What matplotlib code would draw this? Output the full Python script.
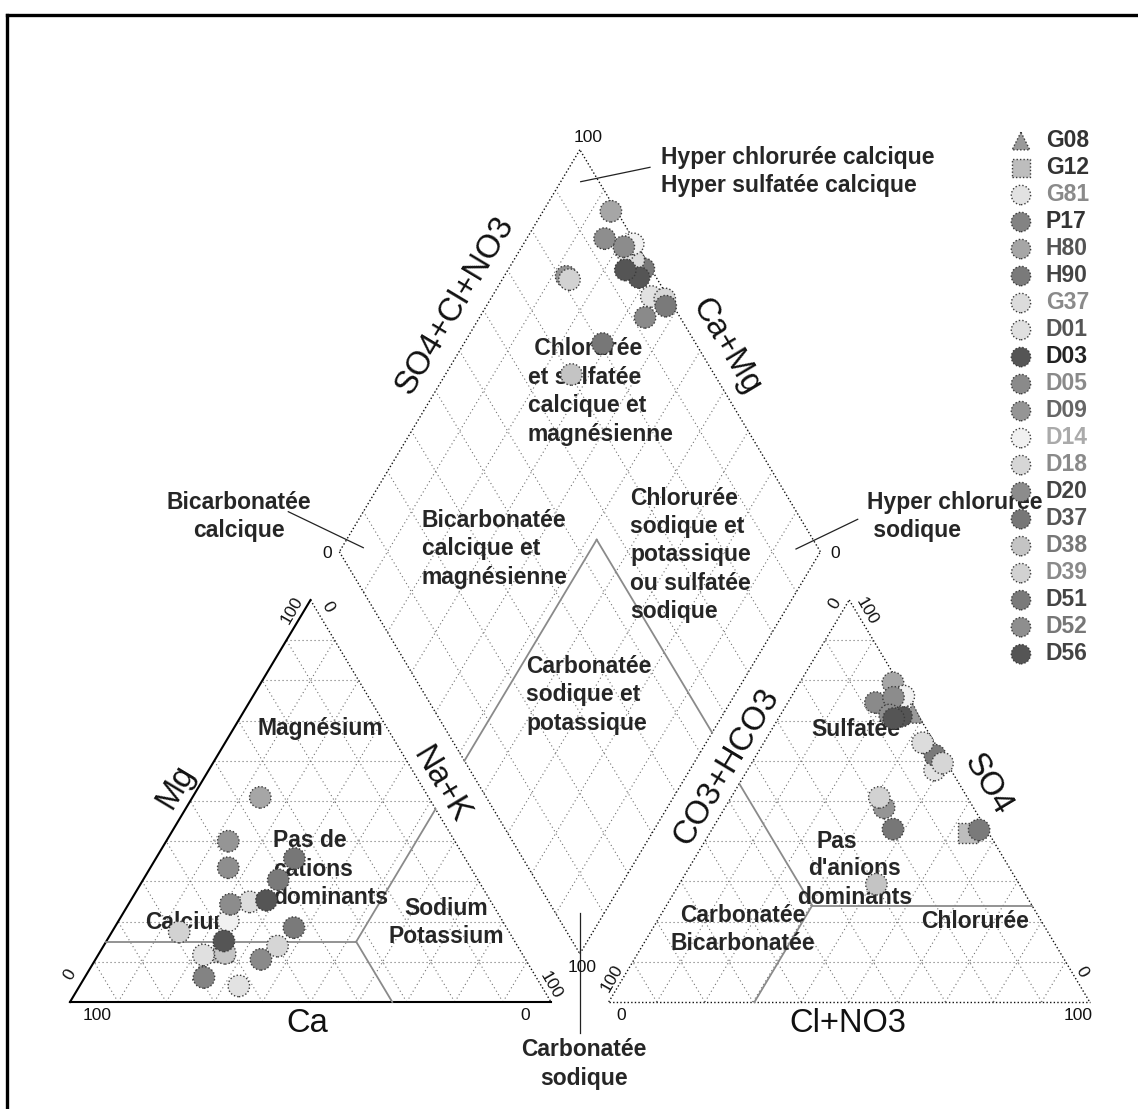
import matplotlib
matplotlib.use("Agg")
import matplotlib.pyplot as plt
from matplotlib.lines import Line2D

plt.rcParams['font.family'] = ['Liberation Sans', 'DejaVu Sans']

# ---------------- data ----------------
samples = ["G08", "G12", "G81", "P17", "H80", "H90", "G37", "D01", "D03", "D05",
           "D09", "D14", "D18", "D20", "D37", "D38", "D39", "D51", "D52", "D56"]
# cations (% meq)
ca  = [68.5, 62.0, 62.9, 69.1, 35.0, 41.5, 50.2, 66.4, 46.5, 55.0,
       47.1, 57.0, 49.9, 54.5, 35.5, 61.7, 68.6, 44.2, 50.4, 60.4]
mg  = [7.9, 12.5, 4.0, 6.1, 50.9, 30.4, 24.9, 11.7, 25.3, 10.6,
       40.0, 20.2, 13.9, 24.3, 35.7, 12.1, 17.4, 18.5, 33.4, 15.2]
nak = [23.6, 25.5, 33.1, 24.8, 14.1, 28.1, 24.9, 21.9, 28.2, 34.4,
       12.9, 22.8, 36.2, 21.2, 28.8, 26.2, 14.0, 37.3, 16.2, 24.4]
# anions (% meq)
hco3 = [0.9, 4.2, 3.4, 3.6, 1.2, 1.5, 2.5, 3.0, 3.6, 7.3,
        18.6, 0.6, 0.9, 2.9, 19.4, 29.7, 18.3, 1.6, 5.9, 5.5]
so4  = [71.8, 42.1, 57.7, 73.0, 79.4, 61.4, 64.5, 74.0, 71.1, 74.5,
        48.3, 76.1, 59.4, 75.8, 43.0, 29.3, 50.9, 42.8, 71.4, 70.5]
cl   = [27.3, 53.7, 38.9, 23.4, 19.4, 37.1, 33.0, 23.0, 25.3, 18.2,
        33.1, 23.3, 39.7, 21.3, 37.6, 41.0, 30.8, 55.6, 22.7, 24.0]

markers = ["^", "s"] + ["o"] * 18
fills = ["#9a9a9a", "#bdbdbd", "#e2e2e2", "#838383", "#a6a6a6", "#7a7a7a", "#dcdcdc",
         "#e0e0e0", "#555555", "#8a8a8a", "#959595", "#f1f1f1", "#d6d6d6", "#8c8c8c",
         "#777777", "#c4c4c4", "#d2d2d2", "#7a7a7a", "#8e8e8e", "#555555"]
label_colors = ["#333333", "#333333", "#8a8a8a", "#333333", "#555555", "#444444", "#8a8a8a",
                "#555555", "#222222", "#8a8a8a", "#666666", "#aaaaaa", "#8a8a8a", "#444444",
                "#555555", "#777777", "#8a8a8a", "#444444", "#777777", "#444444"]

# ---------------- geometry ----------------
GAP = 12.0
SX, SY = 4.81, 4.02          # pixel scale of one unit
X0, Y0 = 70.0, 1002.0        # pixel of cation Ca=100 vertex
W, H = 1138, 1109


def cat_xy(m, n):
    return n + m / 2.0, m


def an_xy(s, c):
    return 100 + GAP + c + s / 2.0, s


def dia_xy(s, m):
    return 100 + GAP / 2.0 + (s - m) / 2.0, GAP + s + m


def P(px, py):
    return (px - X0) / SX, (Y0 - py) / SY


fig = plt.figure(figsize=(W / 100, H / 100), dpi=100)
ax = fig.add_axes([0, 0, 1, 1])
ax.set_xlim(P(0, 0)[0], P(W, 0)[0])
ax.set_ylim(P(0, H)[1], P(0, 0)[1])
ax.axis("off")

# frame (left + top)
fig.add_artist(Line2D([6.5 / W, 6.5 / W], [0, 1 - 15 / H], color="black", lw=2.4))
fig.add_artist(Line2D([6.5 / W, 1], [1 - 15 / H, 1 - 15 / H], color="black", lw=2.4))

grid_kw = dict(color="#707070", lw=0.8, ls=(0, (1, 2.6)), zorder=1)
edge_dot = dict(color="#111111", lw=1.0, ls=(0, (1, 1.6)), zorder=2)
edge_solid = dict(color="black", lw=1.5, zorder=2)
class_kw = dict(color="#8a8a8a", lw=1.3, zorder=2)


def seg(f, a, b, **kw):
    x1, y1 = f(*a)
    x2, y2 = f(*b)
    ax.plot([x1, x2], [y1, y2], **kw)


ticks = range(10, 100, 10)
for k in ticks:
    # cation grid
    seg(cat_xy, (k, 0), (k, 100 - k), **grid_kw)
    seg(cat_xy, (0, k), (100 - k, k), **grid_kw)
    seg(cat_xy, (0, 100 - k), (100 - k, 0), **grid_kw)
    # anion grid
    seg(an_xy, (k, 0), (k, 100 - k), **grid_kw)
    seg(an_xy, (0, k), (100 - k, k), **grid_kw)
    seg(an_xy, (0, 100 - k), (100 - k, 0), **grid_kw)
    # diamond grid
    seg(dia_xy, (k, 0), (k, 100), **grid_kw)
    seg(dia_xy, (0, k), (100, k), **grid_kw)

# outlines
seg(cat_xy, (0, 0), (100, 0), **edge_solid)       # Mg axis (left)
seg(cat_xy, (0, 0), (0, 100), **edge_solid)       # Ca axis (bottom)
seg(cat_xy, (100, 0), (0, 100), **edge_dot)       # Na+K side
seg(an_xy, (0, 0), (0, 100), **edge_dot)
seg(an_xy, (0, 0), (100, 0), **edge_dot)
seg(an_xy, (100, 0), (0, 100), **edge_dot)
seg(dia_xy, (0, 0), (100, 0), **edge_dot)
seg(dia_xy, (100, 0), (100, 100), **edge_dot)
seg(dia_xy, (100, 100), (0, 100), **edge_dot)
seg(dia_xy, (0, 100), (0, 0), **edge_dot)

# classification lines
seg(cat_xy, (15, 0), (15, 52), **class_kw)
seg(cat_xy, (15, 52), (48, 52), **class_kw)
seg(cat_xy, (15, 52), (0, 67), **class_kw)
seg(an_xy, (24, 30.3), (54.3, 0), **class_kw)
seg(an_xy, (24, 30.3), (24, 76), **class_kw)
seg(an_xy, (24, 30.3), (0, 30.3), **class_kw)
seg(dia_xy, (55, 48), (0, 48), **class_kw)
seg(dia_xy, (55, 48), (55, 0), **class_kw)

# leader lines
lead_kw = dict(color="#222222", lw=0.9, zorder=2)
for (a, b) in [((580.7, 181.7), (650, 167.3)), ((288.3, 511.7), (363.3, 547.7)),
               ((796, 549), (857.7, 519.3)), ((580, 913.3), (580, 1032.7))]:
    p1, p2 = P(*a), P(*b)
    ax.plot([p1[0], p2[0]], [p1[1], p2[1]], **lead_kw)

# ---------------- text ----------------
bold = dict(fontsize=16.5, fontweight="bold", color="#262626", zorder=3, linespacing=1.3)


def txt(px, py, s, ha="center", va="center", **kw):
    x, y = P(px, py)
    d = dict(bold)
    d.update(kw)
    ax.text(x, y, s, ha=ha, va=va, multialignment=ha if ha != "center" else "center", **d)


txt(661, 171.5, "Hyper chlorurée calcique\nHyper sulfatée calcique", ha="left")
txt(528, 391.5, " Chlorurée\net sulfatée\ncalcique et\nmagnésienne", ha="left")
txt(422, 549, "Bicarbonatée\ncalcique et\nmagnésienne", ha="left")
txt(630, 555, "Chlorurée\nsodique et\npotassique\nou sulfatée\nsodique", ha="left")
txt(526, 695, "Carbonatée\nsodique et\npotassique", ha="left")
txt(239, 516.5, "Bicarbonatée\ncalcique")
txt(867, 516.5, "Hyper chlorurée\n sodique", ha="left")
txt(584, 1064, "Carbonatée\nsodique")
txt(320, 728, "Magnésium")
txt(273, 869, "Pas de\ncations\ndominants", ha="left")
txt(145, 922.7, "Calcium", ha="left")
txt(446, 922.5, "Sodium\nPotassium")
txt(856, 730, "Sulfatée")
txt(837, 841.5, "Pas")
txt(855, 883, "d'anions\ndominants")
txt(743, 929.5, "Carbonatée\nBicarbonatée")
txt(975, 922, "Chlorurée")

# axis titles
axis_kw = dict(fontsize=23.5, fontweight="normal", color="#111111", linespacing=1.0)
ROT = 59
txt(455, 305, "SO4+Cl+NO3", rotation=ROT, **axis_kw)
txt(726, 347, "Ca+Mg", rotation=-ROT, **axis_kw)
txt(176, 787, "Mg", rotation=ROT, **axis_kw)
txt(441, 785, "Na+K", rotation=-ROT, **axis_kw)
txt(307, 1023, "Ca", **axis_kw)
txt(727, 767, "CO3+HCO3", rotation=ROT, **axis_kw)
txt(988, 785, "SO4", rotation=-ROT, **axis_kw)
txt(848, 1024, "Cl+NO3", **axis_kw)

# tick labels
tk = dict(fontsize=12.5, fontweight="normal", color="#111111")
for (px, py, s, r) in [(96.7, 1015, "100", 0), (525, 1015, "0", 0), (70, 975, "0", 60),
                       (292, 610, "100", 60), (328, 607, "0", -60), (551, 985, "100", -60),
                       (621, 1016, "0", 0), (1078, 1016, "100", 0), (612, 978, "100", 60),
                       (835, 604, "0", 60), (867, 611, "100", -60), (1082, 972, "0", -60),
                       (588, 137, "100", 0), (327, 553, "0", 0), (835, 553, "0", 0),
                       (582, 968, "100", 0)]:
    txt(px, py, s, rotation=r, **tk)

# ---------------- points ----------------
handles = []
for i, name in enumerate(samples):
    cx, cy = cat_xy(mg[i], nak[i])
    axx, axy = an_xy(so4[i], cl[i])
    s = so4[i] + cl[i]
    m = ca[i] + mg[i]
    dx, dy = dia_xy(s, m)
    sz = 240 if markers[i] == "o" else 200
    h = ax.scatter([cx, axx, dx], [cy, axy, dy], s=sz, marker=markers[i], c=fills[i],
                   edgecolors="#3a3a3a", linewidths=1.0, linestyles=(0, (1, 1.5)),
                   zorder=4 + i * 0.01, label=name)
    handles.append(h)

leg = ax.legend(handles=handles, loc="upper left",
                bbox_to_anchor=(1009.5 / W, 1 - 129 / H), bbox_transform=fig.transFigure,
                frameon=False, borderpad=0, borderaxespad=0, handlelength=1.0,
                handletextpad=0.58, labelspacing=0.175, markerscale=0.9,
                prop=dict(family="Liberation Sans", weight="bold", size=16.5))
leg.set_zorder(6)
for t, c in zip(leg.get_texts(), label_colors):
    t.set_color(c)

fig.savefig("out.png", dpi=100)
